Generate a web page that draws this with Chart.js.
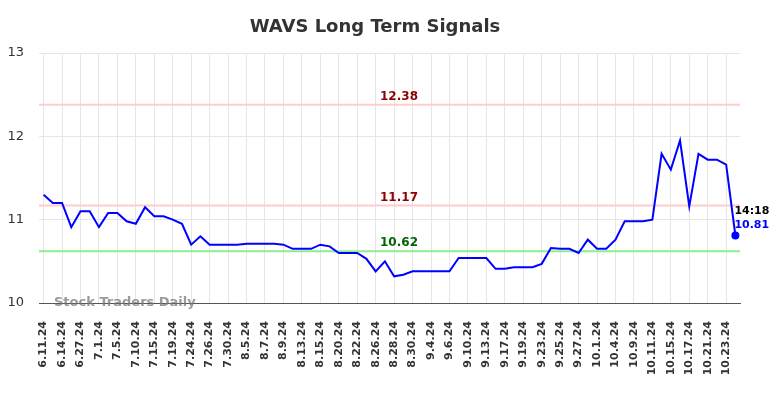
<!DOCTYPE html>
<html>
<head>
<meta charset="utf-8">
<script src="https://cdn.jsdelivr.net/npm/chart.js@4/dist/chart.umd.min.js"></script>
<style>
  html, body { margin: 0; padding: 0; background: #fff; }
  #wrap { width: 784px; height: 398px; position: relative; }
</style>
</head>
<body>
<div id="wrap"><canvas id="chart"></canvas></div>
<script>
/* WAVS long term signals — price line with resistance / support levels */

const tickLabels = ['6.11.24', '6.14.24', '6.27.24', '7.1.24', '7.5.24', '7.10.24', '7.15.24', '7.19.24',
    '7.24.24', '7.26.24', '7.30.24', '8.5.24', '8.7.24', '8.9.24', '8.13.24', '8.15.24', '8.20.24',
    '8.22.24', '8.26.24', '8.28.24', '8.30.24', '9.4.24', '9.6.24', '9.10.24', '9.13.24', '9.17.24',
    '9.19.24', '9.23.24', '9.25.24', '9.27.24', '10.1.24', '10.4.24', '10.9.24', '10.11.24', '10.15.24',
    '10.17.24', '10.21.24', '10.23.24'];

const prices = [11.30, 11.20, 11.20, 10.91, 11.10, 11.10, 10.91, 11.08, 11.08, 10.98,
    10.95, 11.15, 11.04, 11.04, 11.00, 10.95, 10.70, 10.80, 10.70, 10.70,
    10.70, 10.70, 10.71, 10.71, 10.71, 10.71, 10.70, 10.65, 10.65, 10.65,
    10.70, 10.68, 10.60, 10.60, 10.60, 10.53, 10.38, 10.50, 10.32, 10.34,
    10.38, 10.38, 10.38, 10.38, 10.38, 10.54, 10.54, 10.54, 10.54, 10.41,
    10.41, 10.43, 10.43, 10.43, 10.47, 10.66, 10.65, 10.65, 10.60, 10.76,
    10.65, 10.65, 10.76, 10.98, 10.98, 10.98, 11.00, 11.79, 11.60, 11.95,
    11.16, 11.79, 11.72, 11.72, 11.66, 10.81];

const yTicks = [10, 11, 12, 13];
const levelValues = [12.38, 11.17, 10.62];
const levelLines = ['#ffcccc', '#ffcccc', '#90ee90'];
const levelText = ['#8b0000', '#8b0000', '#006400'];
const lastTime = '14:18';

// one category per point, labelled only where a date tick is shown
const labels = prices.map((_, i) => (i % 2 ? '' : tickLabels[i / 2]));

const FONT = "'DejaVu Sans', sans-serif";

const levelsPlugin = {
    id: 'levels',
    beforeDatasetsDraw(chart) {
        const { ctx, chartArea: a, scales: { x, y } } = chart;
        ctx.save();
        levelValues.forEach((v, k) => {
            const py = y.getPixelForValue(v);
            ctx.strokeStyle = levelLines[k];
            ctx.lineWidth = 2;
            ctx.beginPath(); ctx.moveTo(a.left, py); ctx.lineTo(a.right, py); ctx.stroke();
            ctx.fillStyle = levelText[k];
            ctx.font = 'bold 12px ' + FONT;
            ctx.textAlign = 'center';
            ctx.textBaseline = 'bottom';
            ctx.fillText(v.toFixed(2), 399, py - 2);
        });
        ctx.restore();
    },
    afterDraw(chart) {
        const { ctx, chartArea: a, scales: { x, y } } = chart;
        ctx.save();
        // title
        ctx.fillStyle = '#333';
        ctx.font = 'bold 18px ' + FONT;
        ctx.textAlign = 'center';
        ctx.textBaseline = 'middle';
        ctx.fillText('WAVS Long Term Signals', 375, 27);
        // watermark
        ctx.fillStyle = 'rgba(120,120,120,0.75)';
        ctx.font = 'bold 13px ' + FONT;
        ctx.textAlign = 'left';
        ctx.fillText('Stock Traders Daily', 54, a.bottom);
        // last value annotation
        const last = prices.length - 1;
        const px = x.getPixelForValue(last);
        const py = y.getPixelForValue(prices[last]);
        ctx.font = 'bold 11px ' + FONT;
        ctx.fillStyle = '#000';
        ctx.fillText(lastTime, px - 1, py - 24);
        ctx.fillStyle = '#0000ff';
        ctx.fillText(prices[last].toFixed(2), px - 1, py - 10);
        ctx.beginPath(); ctx.arc(px, py, 4, 0, Math.PI * 2); ctx.fill();
        ctx.restore();
    }
};

new Chart(document.getElementById('chart'), {
    type: 'line',
    data: {
        labels: labels,
        datasets: [{
            data: prices,
            borderColor: '#0000ff',
            borderWidth: 2,
            pointRadius: 0,
            tension: 0,
            fill: false
        }]
    },
    options: {
        responsive: true, maintainAspectRatio: false, animation: false,
        layout: { padding: { top: 53, right: 44, left: 0, bottom: 0 } },
        plugins: { legend: { display: false }, tooltip: { enabled: false }, title: { display: false } },
        scales: {
            x: {
                offset: true,
                afterBuildTicks: s => { s.ticks = s.ticks.filter(t => t.value % 2 === 0); },
                afterFit: s => { s.height = 95; },
                grid: { color: '#e6e6e6', offset: false, drawTicks: false },
                border: { display: true, color: '#555', width: 1 },
                ticks: {
                    autoSkip: false, maxRotation: 90, minRotation: 90, padding: 18,
                    color: '#333', font: { family: FONT, size: 11, weight: 'bold' }
                }
            },
            y: {
                min: 10, max: 13,
                afterBuildTicks: s => { s.ticks = yTicks.map(v => ({ value: v })); },
                afterFit: s => { s.width = 39; },
                grid: { color: '#e6e6e6', drawTicks: false },
                border: { display: false },
                ticks: { padding: 15, color: '#333', font: { family: FONT, size: 13 } }
            }
        }
    },
    plugins: [levelsPlugin]
});
</script>
</body>
</html>
